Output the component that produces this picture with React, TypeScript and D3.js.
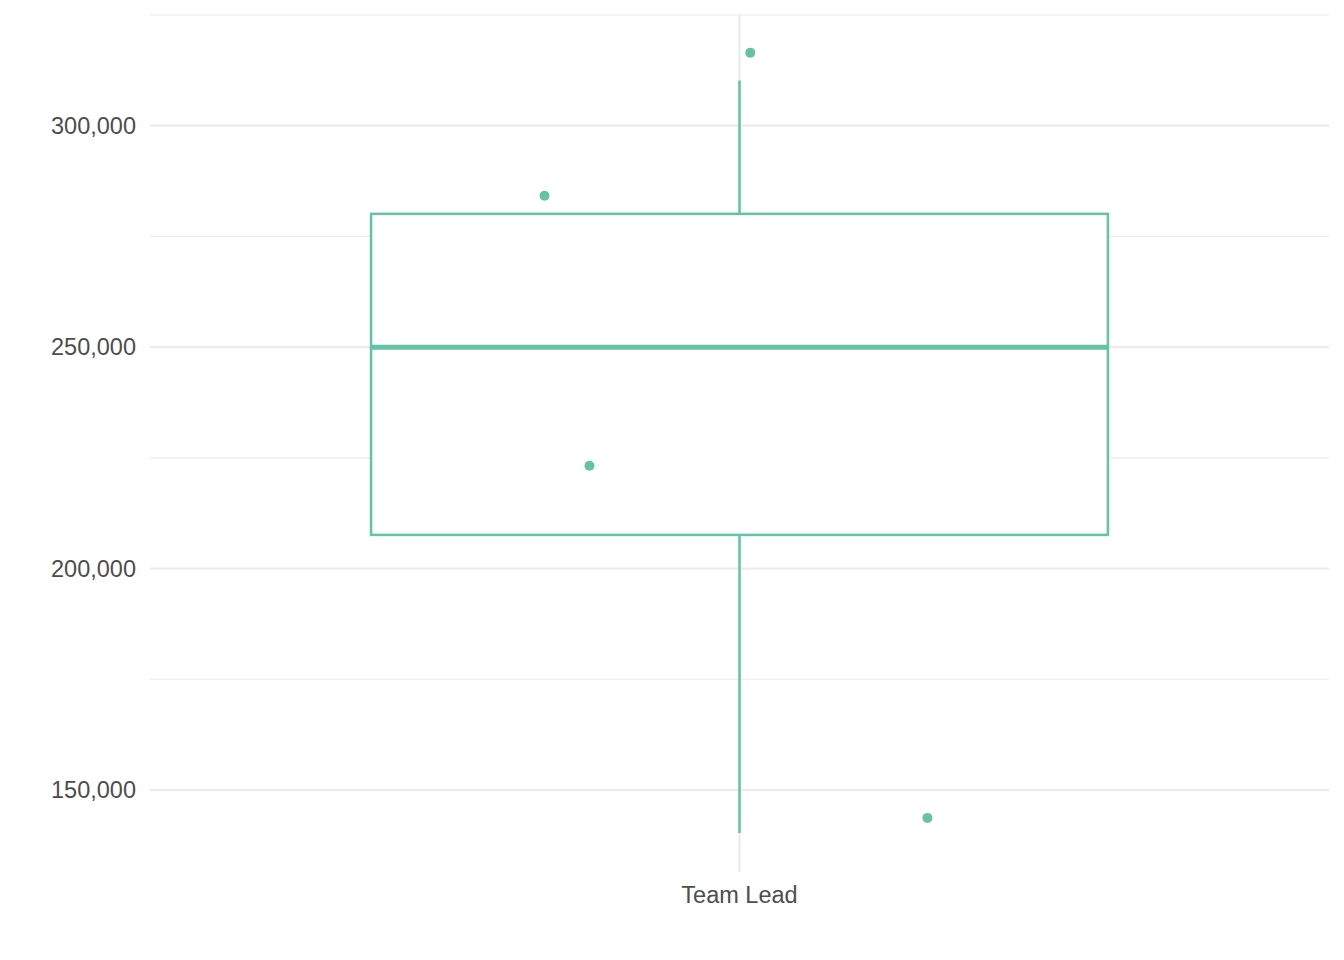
import React, { useRef, useEffect } from 'react';
import * as d3 from 'd3';

const categories = ['Team Lead'];
// box stats: q1, median, q3, whisker low, whisker high
const boxStats = [{ cat: 'Team Lead', q1: 207600, median: 250000, q3: 280100, low: 140300, high: 310200 }];
// jittered raw points (offset is in band units, -0.5..0.5)
const points = [
  { cat: 'Team Lead', value: 316500, offset: 0.011 },
  { cat: 'Team Lead', value: 284200, offset: -0.1985 },
  { cat: 'Team Lead', value: 223200, offset: -0.1527 },
  { cat: 'Team Lead', value: 143700, offset: 0.1913 },
];
const majorTicks = [150000, 200000, 250000, 300000];
const minorTicks = [175000, 225000, 275000, 325000];

export default function App() {
  const svgRef = useRef<SVGSVGElement>(null);

  useEffect(() => {
    const width = 1344;
    const height = 960;
    const marginLeft = 150;
    const marginRight = 15;
    const marginTop = 15;
    const marginBottom = 88;
    const color = '#66c2a5';

    const svg = d3.select(svgRef.current);
    svg.selectAll('*').remove();
    svg.attr('width', width).attr('height', height).attr('viewBox', [0, 0, width, height])
      .style('font-family', '"Liberation Sans", Arial, sans-serif');

    const x = d3.scaleBand()
      .domain(categories)
      .range([marginLeft, width - marginRight])
      .paddingOuter(0.1);

    const y = d3.scaleLinear()
      .domain([131480, 325000])
      .range([height - marginBottom, marginTop]);

    const g = svg.append('g');

    // grid
    g.append('g').selectAll('line').data(minorTicks).join('line')
      .attr('x1', marginLeft).attr('x2', width - marginRight)
      .attr('y1', d => y(d)).attr('y2', d => y(d))
      .attr('stroke', '#ebebeb').attr('stroke-width', 1.1);
    g.append('g').selectAll('line').data(majorTicks).join('line')
      .attr('x1', marginLeft).attr('x2', width - marginRight)
      .attr('y1', d => y(d)).attr('y2', d => y(d))
      .attr('stroke', '#ebebeb').attr('stroke-width', 2.2);
    g.append('g').selectAll('line').data(categories).join('line')
      .attr('x1', d => x(d)! + x.bandwidth() / 2).attr('x2', d => x(d)! + x.bandwidth() / 2)
      .attr('y1', marginTop).attr('y2', height - marginBottom)
      .attr('stroke', '#ebebeb').attr('stroke-width', 2.2);

    // y labels
    g.append('g').selectAll('text').data(majorTicks).join('text')
      .attr('x', marginLeft - 14).attr('y', d => y(d))
      .attr('dy', '0.35em').attr('text-anchor', 'end')
      .attr('font-size', 23.5).attr('fill', '#4d4d4d')
      .text(d => d3.format(',')(d));

    // x labels
    g.append('g').selectAll('text').data(categories).join('text')
      .attr('x', d => x(d)! + x.bandwidth() / 2).attr('y', height - marginBottom + 23)
      .attr('dy', '0.35em').attr('text-anchor', 'middle')
      .attr('font-size', 23.5).attr('fill', '#4d4d4d')
      .text(d => d);

    // boxes
    const bw = x.bandwidth() * 0.75;
    const box = g.append('g').selectAll('g').data(boxStats).join('g');
    const cx = (d: any) => x(d.cat)! + x.bandwidth() / 2;
    box.append('line')
      .attr('x1', cx).attr('x2', cx)
      .attr('y1', d => y(d.q3)).attr('y2', d => y(d.high))
      .attr('stroke', color).attr('stroke-width', 2.5);
    box.append('line')
      .attr('x1', cx).attr('x2', cx)
      .attr('y1', d => y(d.q1)).attr('y2', d => y(d.low))
      .attr('stroke', color).attr('stroke-width', 2.5);
    box.append('rect')
      .attr('x', d => cx(d) - bw / 2).attr('width', bw)
      .attr('y', d => y(d.q3)).attr('height', d => y(d.q1) - y(d.q3))
      .attr('fill', 'white').attr('stroke', color).attr('stroke-width', 2.5);
    box.append('line')
      .attr('x1', d => cx(d) - bw / 2).attr('x2', d => cx(d) + bw / 2)
      .attr('y1', d => y(d.median)).attr('y2', d => y(d.median))
      .attr('stroke', color).attr('stroke-width', 5);

    // points
    g.append('g').selectAll('circle').data(points).join('circle')
      .attr('cx', d => x(d.cat)! + x.bandwidth() * (0.5 + d.offset))
      .attr('cy', d => y(d.value))
      .attr('r', 5)
      .attr('fill', color);
  }, []);

  return (
    <div style={{ position: 'absolute', left: 0, top: 0 }}>
      <svg ref={svgRef}></svg>
    </div>
  );
}
